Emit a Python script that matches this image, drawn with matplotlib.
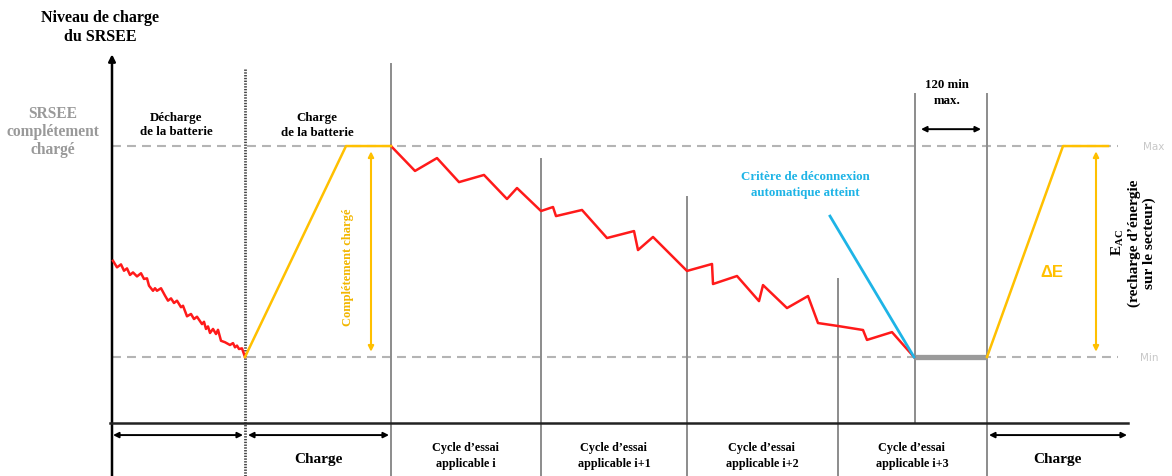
import matplotlib
matplotlib.use("Agg")
import matplotlib.pyplot as plt

plt.rcParams['mathtext.fontset'] = 'custom'
plt.rcParams['mathtext.rm'] = 'Liberation Serif:bold'
plt.rcParams['mathtext.it'] = 'Liberation Serif:bold'

SERIF = 'Liberation Serif'

# Axe horizontal : temps (unités arbitraires) ; axe vertical : niveau de charge (Min = 0, Max = 100)
# Décharge de la batterie avant l'essai
dech_t = [113, 117, 121, 124, 127, 130, 133, 137, 141, 144, 147, 149, 153, 155, 157, 161,
          165, 168, 171, 174, 177, 181, 183, 187, 191, 194, 197, 202, 204, 206, 208, 210,
          213, 216, 218, 221, 225, 230, 233, 235, 237, 239, 242, 245]
dech_soc = [45.6, 42.5, 43.9, 40.9, 42.0, 38.9, 40.1, 38.2, 39.7, 37.0, 37.3, 33.8, 31.4, 32.6,
            31.4, 32.6, 29.1, 26.7, 27.8, 25.6, 26.7, 23.6, 24.3, 19.3, 20.4, 18.0, 19.1, 15.6,
            16.7, 13.3, 14.5, 11.4, 13.3, 10.9, 12.9, 7.7, 7.0, 5.7, 6.6, 4.6, 5.4, 3.8, 4.1, 0.0]

# Recharges (avant essai puis mesure E_AC)
charge1_t = [245, 346, 391]
charge1_soc = [0, 100, 100]
charge2_t = [987, 1063, 1108]
charge2_soc = [0, 100, 100]

# Cycles d'essai successifs
cycle_t = [391, 415, 437, 459, 484, 507, 517, 541, 553, 556, 582, 607, 634, 638, 653, 687,
           712, 713, 737, 759, 763, 787, 808, 818, 838, 863, 867, 892, 914]
cycle_soc = [100, 88.2, 94.3, 82.9, 86.3, 74.9, 80.1, 69.2, 71.1, 66.8, 69.7, 56.4, 59.7, 50.7,
             56.9, 40.8, 44.1, 34.6, 38.4, 26.5, 34.1, 23.2, 28.9, 16.1, 14.7, 12.8, 8.1, 11.8, 0]

# Critère de déconnexion automatique
coupure_t = [830, 914]
coupure_soc = [66.8, 0]

# Palier à Min (120 min max.)
palier_t = [915, 987]

# Séparateurs verticaux : position, haut, bas
sep_x = [391, 541, 687, 838, 915, 987]
sep_top = [138.9, 93.8, 75.8, 37.0, 124.6, 124.6]
sep_bot = [-56.4, -56.4, -56.4, -56.4, -31.3, -56.4]

# Libellés sous l'axe des temps
bas_x = [318, 466, 614, 762, 912, 1057]
bas_txt = ['Charge', 'Cycle d\u2019essai\napplicable i', 'Cycle d\u2019essai\napplicable i+1',
           'Cycle d\u2019essai\napplicable i+2', 'Cycle d\u2019essai\napplicable i+3', 'Charge']

RED = '#ff1a1a'
YEL = '#ffc000'
CYAN = '#1eb4e6'
GREY = '#8c8c8c'
DASH = '#b4b4b4'

fig = plt.figure(figsize=(11.72, 4.77), dpi=100)
ax = fig.add_axes([0, 0, 1, 1])
ax.set_xlim(0, 1172)
ax.set_ylim(-56.4, 169.7)
ax.axis('off')

# niveaux Max / Min
for lvl in (100, 0):
    ax.plot([112, 1118], [lvl, lvl], color=DASH, lw=1.5, ls=(0, (4.3, 2.9)), zorder=1)
ax.text(1143, 100, 'Max', color='#c8c8c8', fontsize=7.5, va='center', ha='left')
ax.text(1140, 0, 'Min', color='#c8c8c8', fontsize=7.5, va='center', ha='left')

# axe vertical avec flèche
ax.annotate('', xy=(112, 143.5), xytext=(112, -56.4),
            arrowprops=dict(arrowstyle='-|>', color='black', lw=1.8,
                            mutation_scale=10, shrinkA=0, shrinkB=0))
# axe des temps
ax.plot([110, 1128], [-31.3, -31.3], color='#222222', lw=1.8, zorder=3)

# fin de décharge (pointillés)
ax.plot([245, 245], [136.5, -56.4], color='#444444', lw=2.0, ls=(0, (0.5, 0.5)), zorder=2)
for x, t, b in zip(sep_x, sep_top, sep_bot):
    ax.plot([x, x], [t, b], color=GREY, lw=1.4, zorder=2)

# courbes
ax.plot(dech_t, dech_soc, color=RED, lw=1.8, zorder=4)
ax.plot(cycle_t, cycle_soc, color=RED, lw=1.8, zorder=4)
ax.plot(charge1_t, charge1_soc, color=YEL, lw=1.8, zorder=4)
ax.plot(charge2_t, charge2_soc, color=YEL, lw=1.8, zorder=4)
ax.plot(coupure_t, coupure_soc, color=CYAN, lw=2.0, zorder=5)
ax.plot(palier_t, [0, 0], color='#9a9a9a', lw=3.8, zorder=3, solid_capstyle='butt')

# flèches jaunes (énergie rechargée)
for x in (371, 1096):
    ax.annotate('', xy=(x, 97.5), xytext=(x, 2.5),
                arrowprops=dict(arrowstyle='<|-|>', color=YEL, lw=1.5,
                                mutation_scale=8, shrinkA=0, shrinkB=0))

# flèches noires du bas
bas_fl = [(113, 243), (248, 389), (989, 1127)]
for x0, x1 in bas_fl:
    ax.annotate('', xy=(x1, -37), xytext=(x0, -37),
                arrowprops=dict(arrowstyle='<|-|>', color='black', lw=1.4,
                                mutation_scale=8, shrinkA=0, shrinkB=0))
ax.annotate('', xy=(981, 108), xytext=(921, 108),
            arrowprops=dict(arrowstyle='<|-|>', color='black', lw=1.4,
                            mutation_scale=8, shrinkA=0, shrinkB=0))

bold = dict(family=SERIF, fontweight='bold', ha='center', va='center')
ax.text(100, 156.6, 'Niveau de charge\ndu SRSEE', fontsize=11.5, color='black',
        linespacing=1.2, **bold)
ax.text(53, 107.1, 'SRSEE\ncompl\u00e9tement\ncharg\u00e9', fontsize=11.2, color='#999999',
        linespacing=1.15, **bold)
ax.text(176, 110.6, 'D\u00e9charge\nde la batterie', fontsize=9.3, color='black',
        linespacing=1.25, **bold)
ax.text(317, 110.1, 'Charge\nde la batterie', fontsize=9.3, color='black',
        linespacing=1.3, **bold)
ax.text(805, 82, 'Crit\u00e8re de d\u00e9connexion\nautomatique atteint', fontsize=9.3,
        color=CYAN, linespacing=1.35, **bold)
ax.text(947, 125.6, '120 min\nmax.', fontsize=9.3, color='black', linespacing=1.4, **bold)
ax.text(348, 43.1, 'Compl\u00e9tement charg\u00e9', fontsize=9, color='#f2b600', rotation=90,
        **bold)
ax.text(1133, 54.5, 'E$_{\\mathrm{AC}}$\n(recharge d\u2019\u00e9nergie\nsur le secteur)',
        fontsize=11, color='black', rotation=90, linespacing=1.15, **bold)
ax.text(1052, 40.3, '\u0394E', fontsize=12, color=YEL, family='Liberation Sans',
        fontweight='bold', ha='center', va='center')

for x, t in zip(bas_x, bas_txt):
    if t == 'Charge':
        ax.text(x, -47.9, t, fontsize=11, color='black', **bold)
    else:
        ax.text(x, -46.4, t, fontsize=8.7, color='black', linespacing=1.4, **bold)

fig.savefig('out.png', dpi=100)
